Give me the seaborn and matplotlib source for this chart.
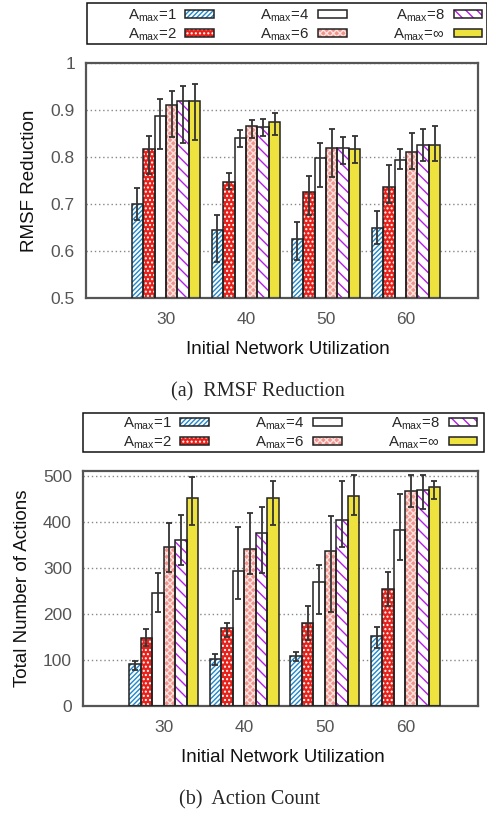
import numpy as np
import pandas as pd
import matplotlib
matplotlib.use("Agg")
import matplotlib.pyplot as plt
from matplotlib.patches import Rectangle
import seaborn as sns

# ── Data ───────────────────────────────────────────────────────────────────────

UTILS = ["30", "40", "50", "60"]
AMAX = ["1", "2", "4", "6", "8", "∞"]

# one row per A_max level, one column per utilization
rmsf_mean = [
    [0.700, 0.644, 0.626, 0.649],
    [0.817, 0.747, 0.726, 0.737],
    [0.887, 0.840, 0.798, 0.794],
    [0.910, 0.866, 0.820, 0.811],
    [0.920, 0.864, 0.820, 0.826],
    [0.920, 0.875, 0.818, 0.826],
]
rmsf_low = [
    [0.665, 0.576, 0.580, 0.614],
    [0.763, 0.732, 0.676, 0.703],
    [0.816, 0.821, 0.737, 0.774],
    [0.843, 0.840, 0.757, 0.774],
    [0.830, 0.845, 0.786, 0.791],
    [0.836, 0.847, 0.787, 0.791],
]
rmsf_high = [
    [0.733, 0.677, 0.661, 0.686],
    [0.844, 0.767, 0.760, 0.784],
    [0.924, 0.857, 0.829, 0.818],
    [0.941, 0.879, 0.860, 0.852],
    [0.952, 0.881, 0.842, 0.859],
    [0.955, 0.894, 0.844, 0.867],
]

actions_mean = [
    [90, 101, 109, 151],
    [148, 168, 179, 254],
    [244, 292, 270, 381],
    [346, 340, 336, 466],
    [360, 375, 403, 468],
    [451, 451, 456, 475],
]
actions_low = [
    [77, 89, 97, 125],
    [130, 149, 142, 216],
    [204, 233, 199, 316],
    [291, 287, 204, 433],
    [305, 289, 346, 428],
    [392, 393, 415, 449],
]
actions_high = [
    [97, 112, 117, 172],
    [167, 179, 217, 291],
    [288, 389, 307, 461],
    [398, 420, 413, 501],
    [414, 433, 488, 501],
    [498, 489, 501, 489],
]

# ── Style ──────────────────────────────────────────────────────────────────────

sns.set_style("white")
plt.rcParams.update({
    "font.family":        ["Liberation Sans", "DejaVu Sans"],
    "mathtext.fontset":   "custom",
    "mathtext.rm":        "Liberation Sans",
    "mathtext.it":        "Liberation Sans:italic",
    "hatch.linewidth":    1.0,
    "axes.edgecolor":     "#555555",
    "axes.linewidth":     1.6,
    "xtick.color":        "#555555",
    "ytick.color":        "#555555",
    "xtick.labelcolor":   "#555555",
    "ytick.labelcolor":   "#555555",
})

BAR_STYLES = [
    {"face": "white",   "hatch": "///////", "hcolor": "#1f88cc"},
    {"face": "#e8201a", "hatch": "....",    "hcolor": "white"},
    {"face": "white",   "hatch": None,      "hcolor": "white"},
    {"face": "#f0958e", "hatch": "xxxxx",   "hcolor": "#fde2df"},
    {"face": "white",   "hatch": "\\\\\\",  "hcolor": "#b51de8"},
    {"face": "#ede23e", "hatch": None,      "hcolor": "#ede23e"},
]
OUTLINE = "#222222"
LABELS = [r"A$_{\rm max}$=" + a for a in AMAX]


def draw_panel(ax, mean, low, high, ylim, yticks, ylabel, ylab_x, xlab_xy):
    df = pd.DataFrame({
        "util":  np.tile(UTILS, len(AMAX)),
        "amax":  np.repeat(LABELS, len(UTILS)),
        "value": np.ravel(mean),
    })
    sns.barplot(
        data=df, x="util", y="value", hue="amax",
        order=UTILS, hue_order=LABELS, width=0.86,
        palette=[s["face"] for s in BAR_STYLES],
        errorbar=None, legend=False, ax=ax, zorder=2,
    )

    handles = []
    for i, (cont, st) in enumerate(zip(ax.containers, BAR_STYLES)):
        for bar in cont:
            bar.set_facecolor(st["face"])
            bar.set_edgecolor(st["hcolor"])
            bar.set_linewidth(0)
            if st["hatch"]:
                bar.set_hatch(st["hatch"])
            ax.add_patch(Rectangle(
                bar.get_xy(), bar.get_width(), bar.get_height(),
                fill=False, edgecolor=OUTLINE, lw=1.1, zorder=3,
            ))
        xs = [b.get_x() + b.get_width() / 2 for b in cont]
        m = np.array(mean[i])
        yerr = [m - np.array(low[i]), np.array(high[i]) - m]
        ax.errorbar(xs, m, yerr=yerr, fmt="none", ecolor="#333333",
                    elinewidth=1.3, capsize=2.5, capthick=1.3, zorder=4)

        fill = Rectangle((0, 0), 1, 1, facecolor=st["face"], edgecolor=st["hcolor"],
                         hatch=st["hatch"], lw=0)
        edge = Rectangle((0, 0), 1, 1, fill=False, edgecolor=OUTLINE, lw=1.1)
        handles.append((fill, edge))

    ax.set_xlim(-1, 3.9)
    ax.set_ylim(*ylim)
    ax.set_yticks(yticks)
    ax.yaxis.grid(True, linestyle=(0, (1, 2)), color="#888888", lw=1.0, zorder=0)
    ax.set_axisbelow(True)
    for s in ax.spines.values():
        s.set_visible(True)
    ax.tick_params(axis="x", length=0, pad=10, labelsize=12.5)
    ax.tick_params(axis="y", direction="in", length=4, width=1, pad=8, labelsize=12.5)
    ax.set_xlabel("Initial Network Utilization", fontsize=13.5, color="#111111")
    ax.set_ylabel(ylabel, fontsize=13.5, color="#111111")
    ax.xaxis.set_label_coords(*xlab_xy)
    ax.yaxis.set_label_coords(ylab_x, 0.5)
    return handles


W, H = 487, 815
fig = plt.figure(figsize=(W / 100, H / 100), dpi=100)

ax1 = fig.add_axes([86 / W, 1 - 298 / H, 392 / W, 235 / H])
h1 = draw_panel(ax1, rmsf_mean, rmsf_low, rmsf_high, (0.5, 1.0),
                [0.5, 0.6, 0.7, 0.8, 0.9, 1.0], "RMSF Reduction",
                -0.122, (0.515, -0.185))
ax1.set_yticklabels(["0.5", "0.6", "0.7", "0.8", "0.9", "1"])

ax2 = fig.add_axes([83 / W, 1 - 705.7 / H, 395 / W, 235 / H])
h2 = draw_panel(ax2, actions_mean, actions_low, actions_high, (0, 511),
                [0, 100, 200, 300, 400, 500], "Total Number of Actions",
                -0.132, (0.506, -0.185))


def add_legend(handles, frame_px, anchor_px):
    x0, y0, x1, y1 = frame_px
    fig.add_artist(Rectangle(
        (x0 / W, 1 - y1 / H), (x1 - x0) / W, (y1 - y0) / H,
        transform=fig.transFigure, fill=False, edgecolor="#111111", lw=1.1,
    ))
    fig.legend(
        handles, LABELS, ncol=3, markerfirst=False, frameon=False,
        loc="center right", bbox_to_anchor=(anchor_px[0] / W, 1 - anchor_px[1] / H),
        fontsize=10.8, handlelength=1.9, handleheight=0.45, handletextpad=0.6,
        columnspacing=3.1, labelspacing=0.2, borderpad=0, borderaxespad=0,
    )


add_legend(h1, (87, 3, 486.5, 44), (482, 25))
add_legend(h2, (82.7, 412.7, 484, 451.7), (477, 433))

fig.text(258 / W, 1 - 392 / H, "(a)  RMSF Reduction", ha="center", va="center",
         family="Liberation Serif", fontsize=14.5)
fig.text(250 / W, 1 - 800 / H, "(b)  Action Count", ha="center", va="center",
         family="Liberation Serif", fontsize=14.5)

fig.savefig("out.png", dpi=100)
